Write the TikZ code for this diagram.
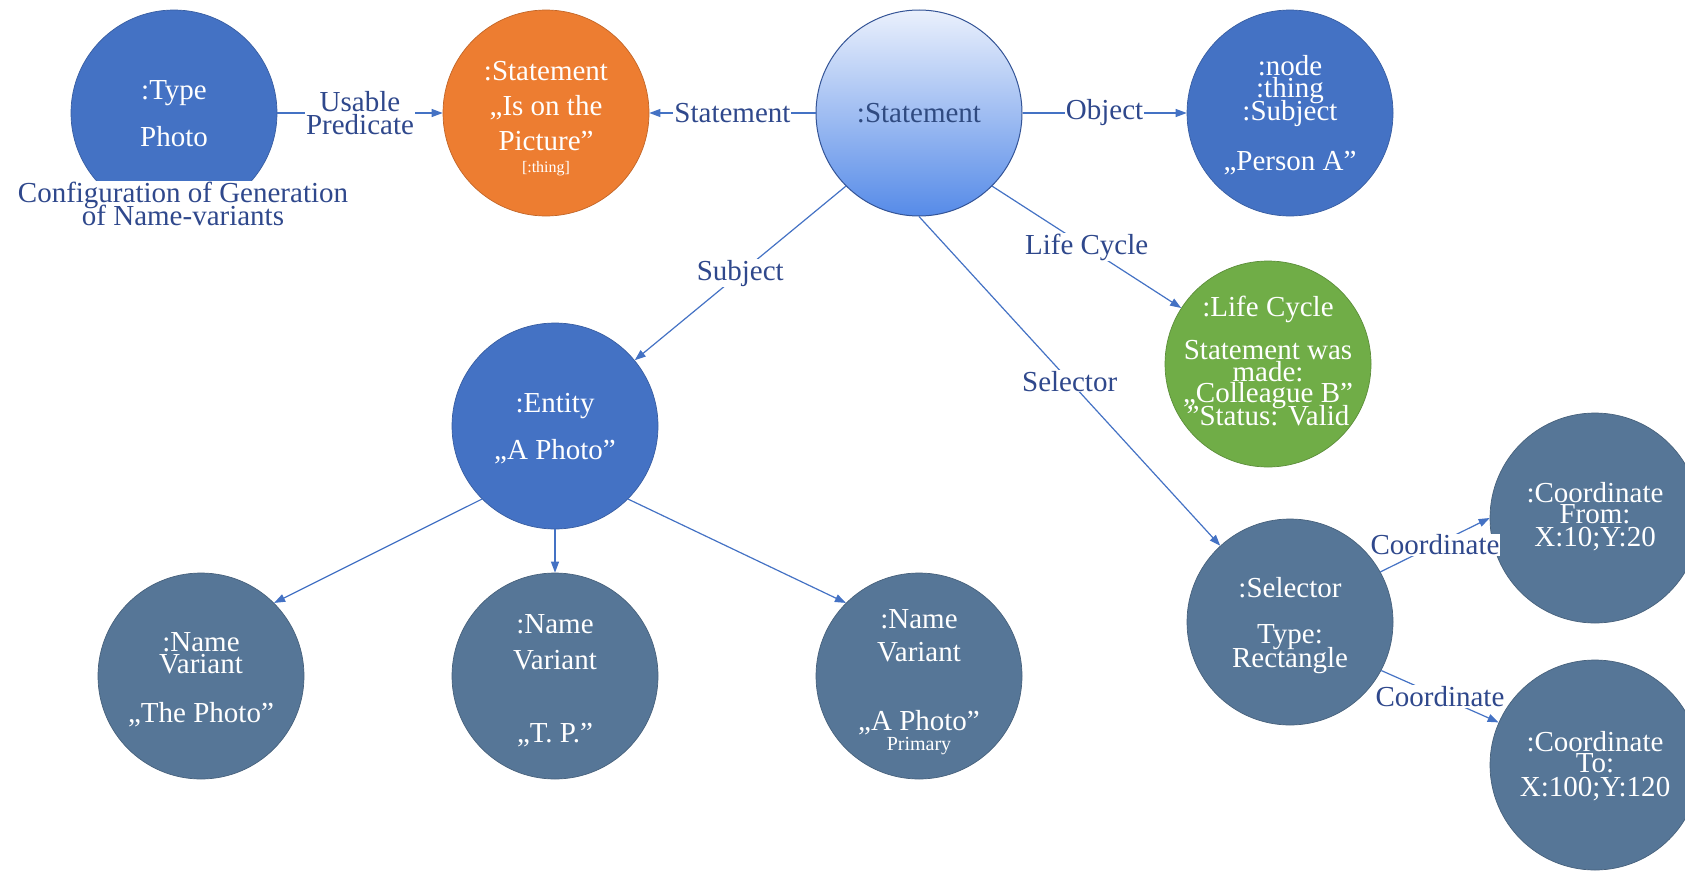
\documentclass[tikz,border=0pt]{standalone}
\usepackage{fontspec}
\setmainfont{Liberation Serif}
\usetikzlibrary{arrows.meta,calc}

\definecolor{nodeblue}{RGB}{68,114,196}
\definecolor{nodeorange}{RGB}{237,125,49}
\definecolor{nodegreen}{RGB}{112,173,71}
\definecolor{nodeslate}{RGB}{86,118,151}
\definecolor{edgeblue}{RGB}{68,114,196}
\definecolor{labelblue}{RGB}{47,72,140}
\definecolor{stmttop}{RGB}{234,240,252}
\definecolor{stmtbottom}{RGB}{86,139,232}
\definecolor{stmtline}{RGB}{52,84,150}
\definecolor{stmttext}{RGB}{47,74,128}

\begin{document}
\begin{tikzpicture}[x=1pt,y=-1pt,
  bubble/.style={circle, minimum size=206pt, inner sep=0pt,
                 draw=#1!82!black, line width=0.7pt, fill=#1},
  wt/.style={anchor=base, yshift=-10pt, text=white, inner sep=0pt,
             font=\fontsize{29}{29}\selectfont},
  wtsmall/.style={anchor=base, yshift=-#1, text=white, inner sep=0pt},
  conn/.style={draw=edgeblue, line width=1.2pt,
               -{Triangle[length=11pt,width=8pt]}},
  lbl/.style={fill=white, inner sep=1pt, text=labelblue, align=center,
              font={\fontsize{29}{23}\selectfont\lineskiplimit=-100pt}},
]
\useasboundingbox (0,0) rectangle (1685,870);
\clip (0,0) rectangle (1685,870);

% ---- top row ----
\node[bubble=nodeblue] (type) at (174,113) {};
\node[wt] (type-a) at ($(type)+(0,-24)$) {:Type};
\node[wt] (type-b) at ($(type)+(0,23)$) {Photo};

\node[bubble=nodeorange] (pred) at (546,113) {};
\node[wt] (pred-a) at ($(pred)+(0,-43)$) {:Statement};
\node[wt] (pred-b) at ($(pred)+(0,-8)$) {„Is on the};
\node[wt] (pred-c) at ($(pred)+(0,27)$) {Picture”};
\node[wtsmall=5pt, font=\fontsize{16}{16}\selectfont] (pred-d) at ($(pred)+(0,54)$) {[:thing]};

\node[circle, minimum size=206pt, inner sep=0pt, draw=stmtline, line width=1pt,
      top color=stmttop, bottom color=stmtbottom, text=stmttext,
      font=\fontsize{29}{29}\selectfont] (stmt) at (919,113) {:Statement};

\node[bubble=nodeblue] (obj) at (1290,113) {};
\node[wt] (obj-a) at ($(obj)+(0,-48)$) {:node};
\node[wt] (obj-b) at ($(obj)+(0,-26)$) {:thing};
\node[wt] (obj-c) at ($(obj)+(0,-3)$) {:Subject};
\node[wt] (obj-d) at ($(obj)+(0,47)$) {„Person A”};

% ---- life cycle ----
\node[bubble=nodegreen] (life) at (1268,364) {};
\node[wt] (life-a) at ($(life)+(0,-58)$) {:Life Cycle};
\node[wt] (life-b) at ($(life)+(0,-15)$) {Statement was};
\node[wt] (life-c) at ($(life)+(0,7)$) {made:};
\node[wt] (life-d) at ($(life)+(0,28)$) {„Colleague B”};
\node[wt] (life-e) at ($(life)+(0,51)$) {”Status: Valid};

% ---- entity and its name variants ----
\node[bubble=nodeblue] (entity) at (555,426) {};
\node[wt] (entity-a) at ($(entity)+(0,-24)$) {:Entity};
\node[wt] (entity-b) at ($(entity)+(0,23)$) {„A Photo”};

\node[bubble=nodeslate] (nv1) at (201,676) {};
\node[wt] (nv1-a) at ($(nv1)+(0,-35)$) {:Name};
\node[wt] (nv1-b) at ($(nv1)+(0,-13)$) {Variant};
\node[wt] (nv1-c) at ($(nv1)+(0,36)$) {„The Photo”};

\node[bubble=nodeslate] (nv2) at (555,676) {};
\node[wt] (nv2-a) at ($(nv2)+(0,-53)$) {:Name};
\node[wt] (nv2-b) at ($(nv2)+(0,-17)$) {Variant};
\node[wt] (nv2-c) at ($(nv2)+(0,56)$) {„T. P.”};

\node[bubble=nodeslate] (nv3) at (919,676) {};
\node[wt] (nv3-a) at ($(nv3)+(0,-58)$) {:Name};
\node[wt] (nv3-b) at ($(nv3)+(0,-25)$) {Variant};
\node[wt] (nv3-c) at ($(nv3)+(0,44)$) {„A Photo”};
\node[wtsmall=7pt, font=\fontsize{20}{20}\selectfont] (nv3-d) at ($(nv3)+(0,67)$) {Primary};

% ---- selector and coordinates ----
\node[bubble=nodeslate] (sel) at (1290,622) {};
\node[wt] (sel-a) at ($(sel)+(0,-35)$) {:Selector};
\node[wt] (sel-b) at ($(sel)+(0,11)$) {Type:};
\node[wt] (sel-c) at ($(sel)+(0,35)$) {Rectangle};

\node[bubble=nodeslate, minimum size=210pt] (cfrom) at (1595,518) {};
\node[wt] (cfrom-a) at ($(cfrom)+(0,-26)$) {:Coordinate};
\node[wt] (cfrom-b) at ($(cfrom)+(0,-5)$) {From:};
\node[wt] (cfrom-c) at ($(cfrom)+(0,18)$) {X:10;Y:20};

\node[bubble=nodeslate, minimum size=210pt] (cto) at (1595,765) {};
\node[wt] (cto-a) at ($(cto)+(0,-24)$) {:Coordinate};
\node[wt] (cto-b) at ($(cto)+(0,-3)$) {To:};
\node[wt] (cto-c) at ($(cto)+(0,21)$) {X:100;Y:120};

% ---- caption over the foot of the type circle ----
\node[lbl] (typenote) at (183,204) {Configuration of Generation\\of Name-variants};

% ---- connectors ----
\draw[conn] (type.east) -- node[lbl] (l-usable) {Usable\\Predicate} (pred.west);
\draw[conn] (stmt.west) -- node[lbl] (l-stmt) {Statement} (pred.east);
\draw[conn] (stmt.east) -- node[lbl] (l-obj) {Object} (obj.west);
\draw[conn] (stmt.-135) -- node[lbl] (l-subj) {Subject} (entity);
\draw[conn] (stmt.-45) -- node[lbl] (l-life) {Life Cycle} (life);
\draw[conn] (stmt.south) -- node[lbl] (l-sel) {Selector} (sel);
\draw[conn] (entity.-135) -- (nv1.45);
\draw[conn] (entity.south) -- (nv2.north);
\draw[conn] (entity.-45) -- (nv3.135);
\draw[conn] (sel.29) -- node[lbl] (l-cfrom) {Coordinate} (cfrom.west);
\draw[conn] (sel.-28) -- node[lbl] (l-cto) {Coordinate} (cto);
\end{tikzpicture}
\end{document}
